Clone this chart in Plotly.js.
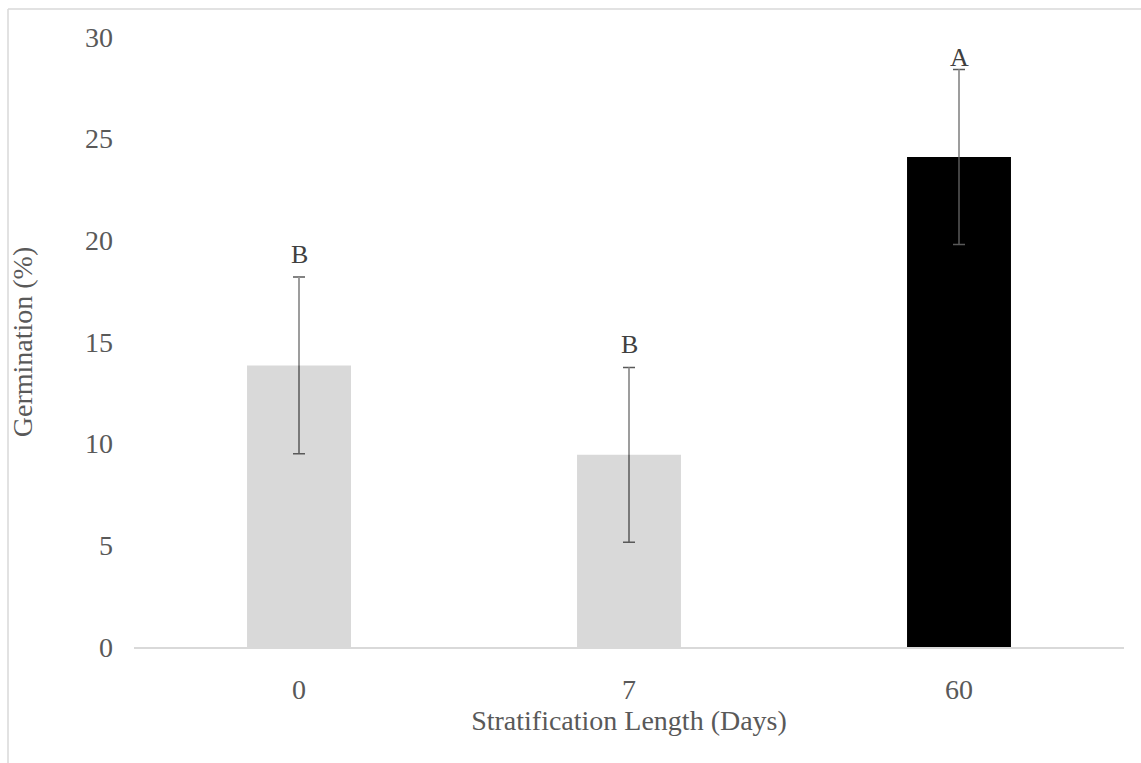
<!DOCTYPE html>
<html>
<head>
<meta charset="utf-8">
<script src="https://cdn.plot.ly/plotly-3.0.1.min.js"></script>
<style>
  html, body { margin: 0; padding: 0; background: #fff; }
  #chart { width: 1141px; height: 763px; }
</style>
</head>
<body>
<div id="chart"></div>
<script>
// Germination by stratification length, mean ± error
const categories = ['0', '7', '60'];
const germination = [13.85, 9.45, 24.1];
const errors = [4.35, 4.3, 4.3];
const groupLetters = ['B', 'B', 'A'];
const barColors = ['#d9d9d9', '#d9d9d9', '#000000'];

const serif = 'Liberation Serif, Times New Roman, serif';
const textSize = 28;
const zeros = errors.map(() => 0);

const bars = {
  type: 'bar',
  x: categories,
  y: germination,
  marker: { color: barColors, line: { width: 0 } },
  hoverinfo: 'x+y',
  showlegend: false
};

// full error bars with caps (dark)
const errFull = {
  type: 'scatter',
  mode: 'none',
  x: categories,
  y: germination,
  error_y: { type: 'data', array: errors, symmetric: true, color: '#595959', thickness: 1.5, width: 6 },
  hoverinfo: 'skip',
  showlegend: false
};

// lighter stem above the bar
const errUpper = {
  type: 'scatter',
  mode: 'none',
  x: categories,
  y: germination,
  error_y: { type: 'data', array: errors, arrayminus: zeros, symmetric: false, color: '#a6a6a6', thickness: 1.5, width: 0 },
  hoverinfo: 'skip',
  showlegend: false
};

// significance letters sit just above each error bar
const letterShift = [6, 6, -4];
const annotations = categories.map((c, i) => ({
  x: i,
  y: germination[i] + errors[i],
  xref: 'x',
  yref: 'y',
  text: groupLetters[i],
  showarrow: false,
  yanchor: 'bottom',
  yshift: letterShift[i],
  font: { family: serif, size: 26, color: '#404040' }
}));

const borderX = (8 - 134) / 990;
const borderY = (647 - 9) / 610;

const layout = {
  width: 1141,
  height: 763,
  margin: { l: 134, r: 17, t: 37, b: 116 },
  paper_bgcolor: '#ffffff',
  plot_bgcolor: '#ffffff',
  bargap: 0.685,
  showlegend: false,
  font: { family: serif, size: textSize, color: '#595959' },
  xaxis: {
    type: 'category',
    range: [-0.5, 2.5],
    showgrid: false,
    zeroline: false,
    showline: true,
    linecolor: '#d9d9d9',
    linewidth: 1.5,
    ticks: '',
    ticklabelstandoff: 17,
    tickfont: { family: serif, size: textSize, color: '#595959' },
    title: { text: 'Stratification Length (Days)', font: { family: serif, size: textSize, color: '#595959' }, standoff: 3 }
  },
  yaxis: {
    range: [0, 30],
    tickvals: [0, 5, 10, 15, 20, 25, 30],
    showgrid: false,
    zeroline: false,
    showline: false,
    ticks: '',
    ticklabelstandoff: 20,
    tickfont: { family: serif, size: textSize, color: '#595959' },
    title: { text: 'Germination (%)', font: { family: serif, size: textSize, color: '#595959' }, standoff: 44 }
  },
  annotations: annotations,
  shapes: [
    { type: 'line', xref: 'paper', yref: 'paper', x0: borderX, x1: borderX, y0: -0.3, y1: borderY, line: { color: '#d9d9d9', width: 1.5 } },
    { type: 'line', xref: 'paper', yref: 'paper', x0: borderX, x1: 1.1, y0: borderY, y1: borderY, line: { color: '#d9d9d9', width: 1.5 } }
  ]
};

Plotly.newPlot('chart', [bars, errFull, errUpper], layout, { displayModeBar: false, staticPlot: true });
</script>
</body>
</html>
